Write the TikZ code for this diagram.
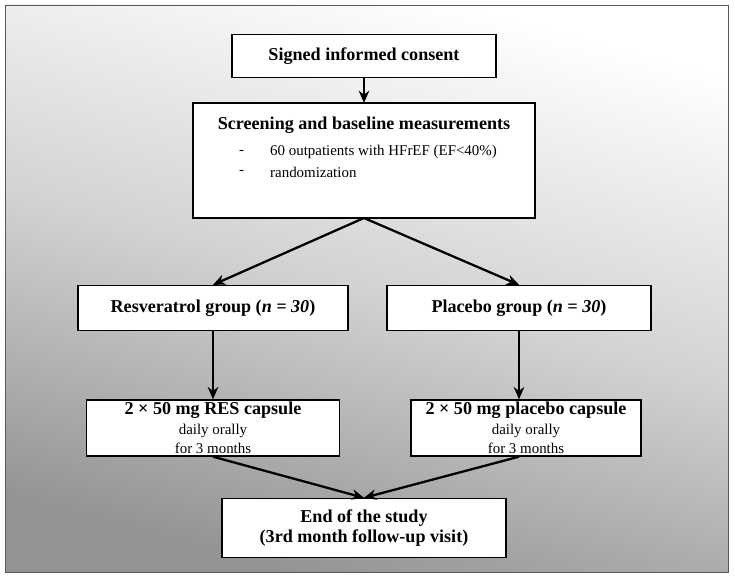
\documentclass[tikz,border=0pt]{standalone}
\usepackage{fontspec}
\setmainfont{Liberation Serif}
\usetikzlibrary{arrows.meta}
\newcommand\ttl[1]{{\fontsize{10.3}{12.5}\selectfont\textbf{#1}}}
\begin{document}
\begin{tikzpicture}[x=0.02cm,y=-0.02cm,
  box/.style={draw,fill=white,thick,inner sep=0pt},
  arr/.style={-{Stealth[length=7pt,width=6pt]},line width=1.3pt},
  every node/.style={font=\fontsize{8.5}{11}\selectfont}]
	% background and frame
	\useasboundingbox (0,0) rectangle (735,581);
	\shade[top color=white,bottom color=gray!85,middle color=gray!35,shading angle=-15] (5,5) rectangle (728,572);
	\draw[gray!70!black] (5,5) rectangle (728,572);
	% boxes
	\node[box,minimum width=264*0.02cm,minimum height=43*0.02cm] (consent) at (364,56) {\ttl{Signed informed consent}};
	\draw[box] (193,103) rectangle (535,218);
	\node (screen) at (364,125) {\ttl{Screening and baseline measurements}};
	\node[anchor=west] (dashA) at (233,152) {-};
	\node[anchor=west] (outpat) at (264,152) {60 outpatients with HFrEF (EF<40\%)};
	\node[anchor=west] (dashB) at (233,172) {-};
	\node[anchor=west] (random) at (264,172) {randomization};
	\coordinate (screenbot) at (364,218);
	\coordinate (screentop) at (364,103);
	\node[box,minimum width=270*0.02cm,minimum height=45*0.02cm] (resgrp) at (213,308) {\ttl{Resveratrol group (\textit{n = 30})}};
	\node[box,minimum width=264*0.02cm,minimum height=45*0.02cm] (plagrp) at (519,308) {\ttl{Placebo group (\textit{n = 30})}};
	\node[box,minimum width=253*0.02cm,minimum height=56*0.02cm,align=center] (rescap) at (213,428) {\ttl{2 × 50 mg RES capsule}\\daily orally\\for 3 months};
	\node[box,minimum width=230*0.02cm,minimum height=56*0.02cm,align=center] (placap) at (526,428) {\ttl{2 × 50 mg placebo capsule}\\daily orally\\for 3 months};
	\node[box,minimum width=284*0.02cm,minimum height=59*0.02cm,align=center] (end) at (364,528) {\ttl{End of the study}\\\ttl{(3rd month follow-up visit)}};
	% connectors
	\draw[arr] (consent) -- (screentop);
	\draw[arr] (screenbot) -- (resgrp.north);
	\draw[arr] (screenbot) -- (plagrp.north);
	\draw[arr] (resgrp) -- (rescap);
	\draw[arr] (plagrp.south) -- (plagrp.south |- placap.north);
	\draw[arr] (rescap.south) -- (end.north);
	\draw[arr] (placap.south -| plagrp.south) -- (end.north);
\end{tikzpicture}
\end{document}
